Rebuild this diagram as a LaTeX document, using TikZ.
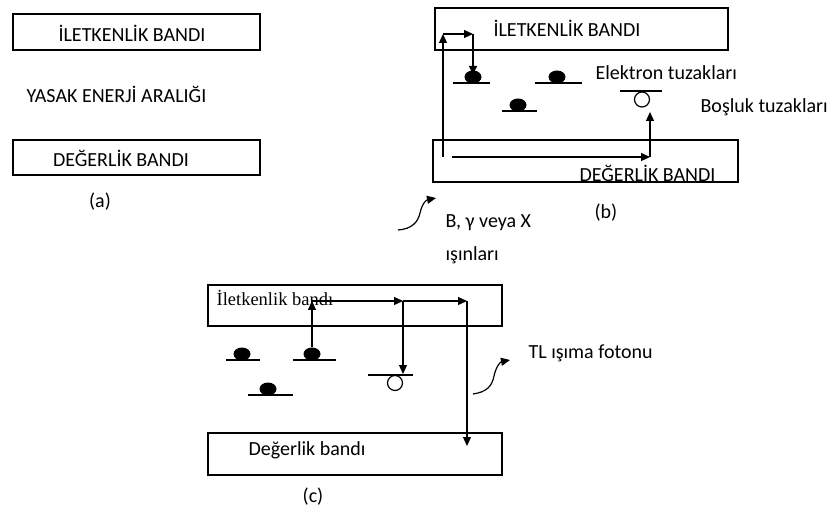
\documentclass[tikz,border=0pt]{standalone}
\usepackage{fontspec}
\setmainfont{Carlito}
\newfontfamily\timesf{Liberation Serif}
\usetikzlibrary{arrows.meta,shapes.geometric}
\begin{document}
\begin{tikzpicture}[x=1pt,y=-1pt, line width=1.2pt,
 band/.style={draw, rectangle, inner sep=0pt, line width=1.3pt},
 lbl/.style={font=\fontsize{20}{23}\selectfont, inner sep=0pt},
 arr/.style={-{Triangle[length=9pt,width=8pt]}},
 etrap/.style={ellipse, fill=black, minimum width=17pt, minimum height=13pt, inner sep=0pt},
 htrap/.style={circle, draw, minimum size=15pt, inner sep=0pt, line width=1.2pt},
 tline/.style={line width=1.2pt}]
\useasboundingbox (0,0) rectangle (836,513);
% ---------- (a)
\node[band, minimum width=247pt, minimum height=36pt] (aC) at (136.5,32) {};
\node[band, minimum width=247pt, minimum height=35pt] (aV) at (136.5,157.5) {};
\node[lbl] (aCt) at (132,33) {İLETKENLİK BANDI};
\node[lbl] (aG) at (116.5,94) {YASAK ENERJİ ARALIĞI};
\node[lbl] (aVt) at (121,158) {DEĞERLİK BANDI};
\node[lbl] (aLab) at (100,202) {(a)};
% ---------- (b)
\node[band, minimum width=293pt, minimum height=42pt] (bC) at (581.5,29) {};
\node[band, minimum width=305pt, minimum height=42pt] (bV) at (585.5,161) {};
\node[lbl] (bCt) at (567,28) {İLETKENLİK BANDI};
\node[lbl] (bVt) at (647.5,173) {DEĞERLİK BANDI};
\node[lbl, anchor=west] (bEt) at (595,73) {Elektron tuzakları};
\node[lbl, anchor=west] (bHt) at (700,107) {Boşluk tuzakları};
\node[lbl] (bLab) at (606,213) {(b)};
\node[lbl, anchor=west] (bR1) at (445,223) {B, γ veya X};
\node[lbl, anchor=west] (bR2) at (445,255) {ışınları};
% traps
\node[etrap] (be1) at (473,77) {};
\draw[tline] (453,83) -- (490,83);
\node[etrap] (be2) at (557,77) {};
\draw[tline] (535,83) -- (582,83);
\node[etrap] (be3) at (518,105) {};
\draw[tline] (502,111) -- (537,111);
\node[htrap] (bh1) at (642,99.5) {};
\draw[tline] (620,91) -- (662,91);
% arrows
\coordinate (b1) at (443,157);
\coordinate (b2) at (443,34);
\coordinate (b3) at (473,34);
\coordinate (b4) at (452,157);
\coordinate (b5) at (650,157);
\draw[arr] (b1) -- (b2);
\draw[arr] (b2) -- (b3);
\draw[arr] (b3) -- ([yshift=-5pt]be1.north);
\draw[arr] (b4) -- (b5);
\draw[arr] (b5) -- (650,112);
\coordinate (bw0) at (398,230);
\coordinate (bw1) at (436,198);
\draw[arr] (bw0) .. controls (412,229) and (418,222) .. (420,213)
  .. controls (422,204) and (426,200) .. (bw1);
% ---------- (c)
\node[band, minimum width=294pt, minimum height=41pt] (cC) at (355,305.5) {};
\node[band, minimum width=294pt, minimum height=42pt] (cV) at (355,454) {};
\node[font=\timesf\fontsize{18.5}{21}\selectfont, inner sep=0pt, anchor=west] (cCt) at (216,298) {İletkenlik bandı};
\node[lbl, anchor=west] (cVt) at (248,450) {Değerlik bandı};
\node[lbl, anchor=west] (cTL) at (528,353) {TL ışıma fotonu};
\node[lbl] (cLab) at (313,497) {(c)};
\node[etrap] (ce1) at (242,354) {};
\draw[tline] (226,360) -- (260,360);
\node[etrap] (ce2) at (312,354) {};
\draw[tline] (293,360) -- (336,360);
\node[etrap] (ce3) at (268,389) {};
\draw[tline] (248,395) -- (293,395);
\node[htrap] (ch1) at (395,383) {};
\draw[tline] (368,375) -- (413,375);
\coordinate (c1) at (312,301);
\coordinate (c2) at (403,301);
\coordinate (c3) at (467,301);
\draw[arr] (ce2.north) -- (c1);
\draw[arr] (c1) -- (c2);
\draw[arr] (c2) -- (c3);
\draw[arr] (c2) -- (403,374);
\draw[arr] (c3) -- (467,446);
\coordinate (cw0) at (473,394);
\coordinate (cw1) at (510,360);
\draw[arr] (cw0) .. controls (487,392) and (492,386) .. (494,376)
  .. controls (496,367) and (500,362) .. (cw1);
\end{tikzpicture}
\end{document}
